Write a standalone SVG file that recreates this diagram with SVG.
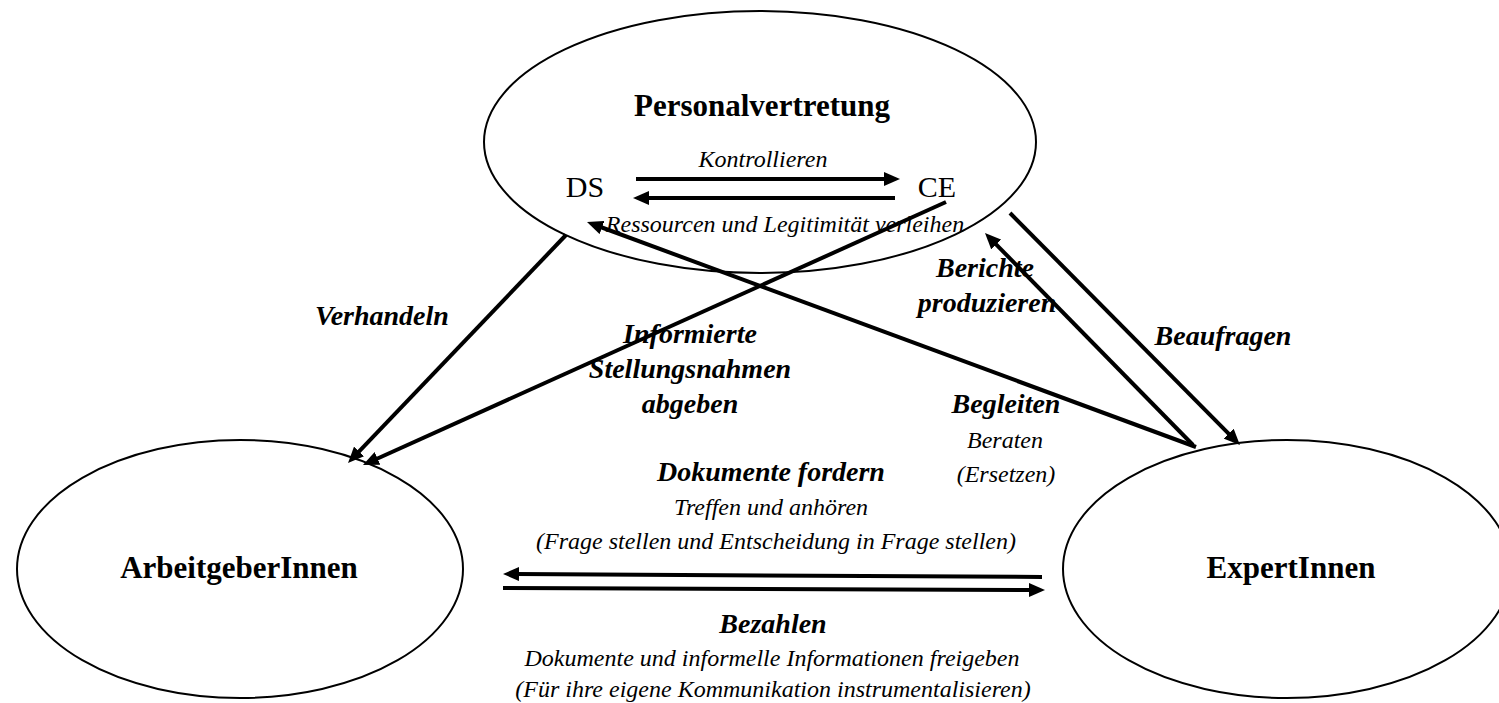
<svg xmlns="http://www.w3.org/2000/svg" width="1499" height="703" viewBox="0 0 1499 703">
<style>
.node{fill:#fff;stroke:#000;stroke-width:2}
.t{font-family:"Liberation Serif","Times New Roman",serif;fill:#000;text-anchor:middle}
.title{font-size:31px;font-weight:bold}
.sub{font-size:30px}
.lb{font-size:28px;font-weight:bold;font-style:italic}
.li{font-size:24px;font-style:italic}
.c{fill:none;stroke:#000;stroke-width:4}
</style>
<defs>
<marker id="ah" viewBox="0 0 16 14" refX="3" refY="7" markerWidth="16" markerHeight="14" markerUnits="userSpaceOnUse" orient="auto">
<path d="M0,0 L16,7 L0,14 Z" fill="#000"/>
</marker>
</defs>
<rect width="1499" height="703" fill="#fff"/>
<g id="node-personalvertretung">
<ellipse class="node" cx="760" cy="142" rx="276" ry="131"/>
<text class="t title" x="762" y="116">Personalvertretung</text>
<text class="t sub" x="585" y="197">DS</text>
<text class="t sub" x="937" y="197">CE</text>
</g>
<g id="node-arbeitgeber">
<ellipse class="node" cx="240" cy="569" rx="223" ry="129"/>
<text class="t title" x="239" y="578">ArbeitgeberInnen</text>
</g>
<g id="node-experten">
<ellipse class="node" cx="1287" cy="569" rx="224" ry="129"/>
<text class="t title" x="1291" y="578">ExpertInnen</text>
</g>
<g id="connectors">
<path class="c" d="M636,179 L887,179" marker-end="url(#ah)"/>
<path class="c" d="M895,198 L646,198" marker-end="url(#ah)"/>
<path class="c" d="M566,235 L357,453.6" marker-end="url(#ah)"/>
<path class="c" d="M946,202 L374.8,459.7" marker-end="url(#ah)"/>
<path class="c" d="M1196,447 L599.2,226.5" marker-end="url(#ah)"/>
<path class="c" d="M1193,445 L994.1,242.3" marker-end="url(#ah)"/>
<path class="c" d="M1010,213 L1230.8,435.8" marker-end="url(#ah)"/>
<path class="c" d="M1042,577 L516,574" marker-end="url(#ah)"/>
<path class="c" d="M503,588 L1032,590" marker-end="url(#ah)"/>
</g>
<g id="labels">
<text class="t li" x="763" y="167">Kontrollieren</text>
<text class="t li" x="785" y="232">Ressourcen und Legitimität verleihen</text>
<text class="t lb" x="382" y="325">Verhandeln</text>
<text class="t lb" x="690" y="343">Informierte</text>
<text class="t lb" x="690" y="378">Stellungsnahmen</text>
<text class="t lb" x="690" y="413">abgeben</text>
<text class="t lb" x="985" y="277">Berichte</text>
<text class="t lb" x="987" y="312">produzieren</text>
<text class="t lb" x="1223" y="345">Beaufragen</text>
<text class="t lb" x="1006" y="413">Begleiten</text>
<text class="t li" x="1005" y="448">Beraten</text>
<text class="t li" x="1006" y="482">(Ersetzen)</text>
<text class="t lb" x="771" y="481">Dokumente fordern</text>
<text class="t li" x="771" y="515">Treffen und anhören</text>
<text class="t li" x="776" y="549">(Frage stellen und Entscheidung in Frage stellen)</text>
<text class="t lb" x="773" y="633">Bezahlen</text>
<text class="t li" x="772" y="666">Dokumente und informelle Informationen freigeben</text>
<text class="t li" x="773" y="697">(Für ihre eigene Kommunikation instrumentalisieren)</text>
</g>
</svg>
